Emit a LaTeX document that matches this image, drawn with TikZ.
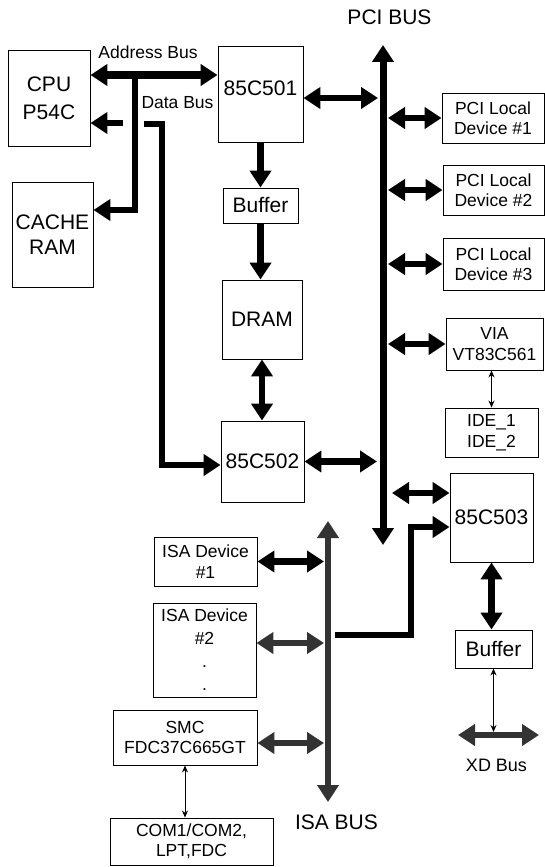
\documentclass[tikz,border=0pt]{standalone}
\usepackage{fontspec}
\setmainfont{Liberation Sans}
\usetikzlibrary{arrows.meta}

\begin{document}
\begin{tikzpicture}[x=1pt,y=-1pt,
	blk/.style={draw,line width=0.9pt,inner sep=1pt,align=center,font=\fontsize{21}{26}\selectfont},
	dev/.style={blk,font=\fontsize{17.5}{20.5}\selectfont},
	bus/.style={line width=6.5pt,line join=miter,-{Triangle[width=21pt,length=17pt]}},
	dbus/.style={line width=6.5pt,{Triangle[width=21pt,length=17pt]}-{Triangle[width=21pt,length=17pt]}},
	isabus/.style={dbus,black!80},
	fine/.style={line width=1pt,{Stealth[length=7pt,width=6pt]}-{Stealth[length=7pt,width=6pt]}},
	lbl/.style={font=\fontsize{17.5}{20}\selectfont},
	buslbl/.style={font=\fontsize{21}{24}\selectfont}
]
	\useasboundingbox (0,0) rectangle (545,867);

	\node[blk,minimum width=82pt,minimum height=96pt,font=\fontsize{21}{28}\selectfont] at (49,98) (cpu) {CPU\\P54C};
	\node[blk,minimum width=81pt,minimum height=105pt,font=\fontsize{21}{25}\selectfont] at (52.5,234.5) (cache) {CACHE\\RAM};
	\node[blk,minimum width=85pt,minimum height=96pt,text depth=12pt] at (260.5,94) (n501) {85C501};
	\node[blk,minimum width=75pt,minimum height=35pt] at (260.5,205.5) (buf1) {Buffer};
	\node[blk,minimum width=80pt,minimum height=79pt] at (262,319.5) (dram) {DRAM};
	\node[blk,minimum width=83pt,minimum height=81pt] at (262.5,461.5) (n502) {85C502};

	\node[dev,minimum width=102pt,minimum height=50pt] at (493,118) (pci1) {PCI Local\\Device \#1};
	\node[dev,minimum width=101pt,minimum height=50pt] at (493.5,190) (pci2) {PCI Local\\Device \#2};
	\node[dev,minimum width=101pt,minimum height=52pt] at (493.5,264) (pci3) {PCI Local\\Device \#3};
	\node[dev,minimum width=97pt,minimum height=52pt] at (494.5,344) (via) {VIA\\VT83C561};
	\node[dev,minimum width=93pt,minimum height=49pt] at (491.5,432.5) (ide) {IDE\_1\\IDE\_2};
	\node[blk,minimum width=83pt,minimum height=89pt] at (491.5,517.5) (n503) {85C503};
	\node[blk,minimum width=77pt,minimum height=38pt] at (493.5,649) (buf2) {Buffer};

	\node[dev,minimum width=103pt,minimum height=49pt] at (205.5,561.5) (isa1) {ISA Device\\\#1};
	\node[dev,minimum width=103pt,minimum height=94pt,font=\fontsize{17.5}{23}\selectfont] at (204.5,650) (isa2) {ISA Device\\\#2\\.\\.};
	\node[dev,minimum width=144pt,minimum height=55pt] at (185,737.5) (smc) {SMC\\FDC37C665GT};
	\node[dev,minimum width=163pt,minimum height=47pt] at (191.5,841.5) (com) {COM1/COM2,\\LPT,FDC};

	\node[lbl] at (148,52) (abus) {Address Bus};
	\node[lbl] at (177.5,103) (dbus) {Data Bus};
	\node[buslbl] at (389.5,17.5) (pcil) {PCI BUS};
	\node[buslbl] at (336.5,822) (isal) {ISA BUS};
	\node[lbl,font=\fontsize{18}{20}\selectfont] at (496.5,765.5) (xdl) {XD Bus};

	\coordinate (ab) at (135,75);
	\coordinate (cr) at (135,210);
	\coordinate (dd) at (123,123);
	\draw[dbus,line width=8pt] (cpu.east |- ab) -- (n501.west |- ab);
	\draw[bus] (ab) -- (cr) -- (cache.east |- cr);
	\draw[bus] (dd) -- (cpu.east |- dd);

	\coordinate (d0) at (144,124);
	\coordinate (d1) at (162,124);
	\coordinate (d2) at (162,465);
	\draw[bus] (d0) -- (d1) -- (d2) -- (n502.west |- d2);

	\draw[bus] (n501.south) -- (n501.south |- buf1.north);
	\draw[bus] (buf1.south) -- (buf1.south |- dram.north);
	\draw[dbus] (dram.south) -- (dram.south |- n502.north);

	\coordinate (pcit) at (383,45);
	\coordinate (pcib) at (383,545);
	\coordinate (p501) at (383,98);
	\coordinate (p503) at (383,493);
	\draw[dbus,line width=7pt] (pcib) -- (pcit);
	\draw[dbus,shorten >=5pt] (n501.east |- p501) -- (p501);
	\draw[dbus,shorten >=6pt] (n502.east) -- (n502.east -| pcit);
	\draw[dbus,shorten <=5pt] (pci1.west -| pcit) -- (pci1.west);
	\draw[dbus,shorten <=5pt] (pci2.west -| pcit) -- (pci2.west);
	\draw[dbus,shorten <=5pt] (pci3.west -| pcit) -- (pci3.west);
	\draw[dbus,shorten <=5pt] (via.west -| pcit) -- (via.west);
	\draw[dbus,shorten <=9pt] (p503) -- (n503.west |- p503);

	\draw[fine] (ide.north |- via.south) -- (ide.north);

	\coordinate (isat) at (328,521);
	\coordinate (isab) at (328,802);
	\coordinate (i2) at (328,643);
	\coordinate (i3) at (328,743);
	\draw[isabus] (isab) -- (isat);
	\draw[dbus,shorten >=4pt] (isa1.east) -- (isa1.east -| isat);
	\draw[isabus,shorten >=4pt] (isa2.east |- i2) -- (i2);
	\draw[isabus,shorten >=4pt] (smc.east |- i3) -- (i3);
	\draw[fine] (smc.south) -- (smc.south |- com.north);

	\coordinate (e0) at (335,635);
	\coordinate (e1) at (411,635);
	\coordinate (e2) at (411,527);
	\draw[bus] (e0) -- (e1) -- (e2) -- (n503.west |- e2);

	\coordinate (xdl0) at (458,735);
	\coordinate (xdr0) at (539,735);
	\draw[dbus] (n503.south) -- (n503.south |- buf2.north);
	\draw[isabus] (xdl0) -- (xdr0);
	\draw[fine,shorten >=3pt] (buf2.south) -- (buf2.south |- xdl0);

\end{tikzpicture}
\end{document}
